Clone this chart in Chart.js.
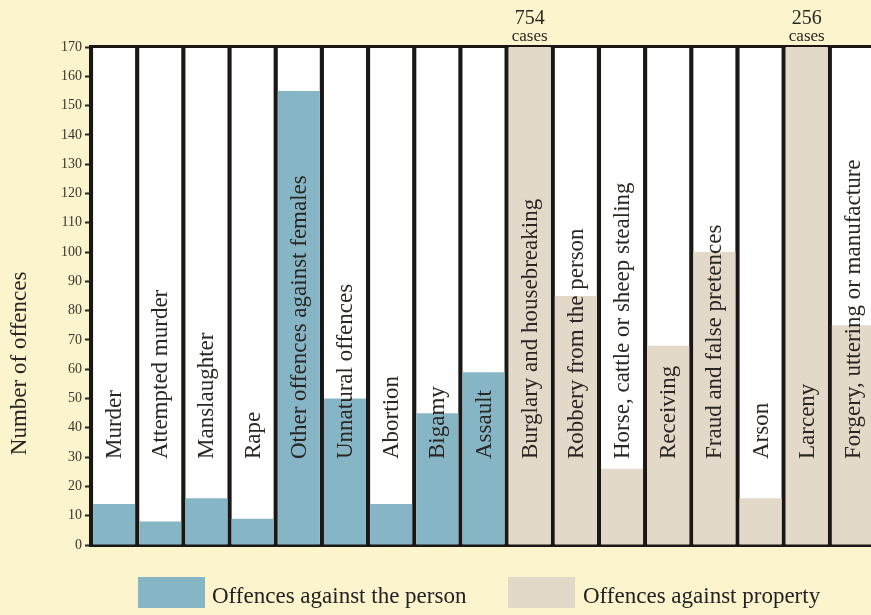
<!DOCTYPE html>
<html>
<head>
<meta charset="utf-8">
<script src="https://cdn.jsdelivr.net/npm/chart.js@4/dist/chart.umd.min.js"></script>
<style>
    html, body { margin: 0; padding: 0; overflow: hidden; background: #fbf4cd; }
    #wrap { position: relative; width: 880px; height: 615px; }
    .legend { position: absolute; top: 575px; font-family: 'Liberation Serif', serif; font-size: 23px; color: #222; }
    .legend span.box { position: absolute; top: 2px; width: 67px; height: 31px; }
    .legend span.txt { position: absolute; top: 8px; white-space: nowrap; }
</style>
</head>
<body>
<div id="wrap">
    <canvas id="crimeChart"></canvas>
    <div class="legend" style="left:138px"><span class="box" style="left:0;background:#86b6c6"></span><span class="txt" style="left:74px">Offences against the person</span></div>
    <div class="legend" style="left:508px"><span class="box" style="left:0;background:#e2d9c9"></span><span class="txt" style="left:75px">Offences against property</span></div>
</div>
<script>
const categories = ['Murder', 'Attempted murder', 'Manslaughter', 'Rape', 'Other offences against females',
    'Unnatural offences', 'Abortion', 'Bigamy', 'Assault', 'Burglary and housebreaking',
    'Robbery from the person', 'Horse, cattle or sheep stealing', 'Receiving', 'Fraud and false pretences',
    'Arson', 'Larceny', 'Forgery, uttering or manufacture'];
const offenceGroup = ['person', 'person', 'person', 'person', 'person', 'person', 'person', 'person', 'person',
    'property', 'property', 'property', 'property', 'property', 'property', 'property', 'property'];
const offences = [14, 8, 16, 9, 155, 50, 14, 45, 59, 754, 85, 26, 68, 100, 16, 256, 75];
const yMax = 170;
const yStep = 10;

const groupColors = { person: '#86b6c6', property: '#e2d9c9' };
const serif = "'Liberation Serif', serif";

// black frame + white columns behind the bars
const columnsPlugin = {
    id: 'columns',
    beforeDatasetsDraw(chart) {
        const { ctx, chartArea: a } = chart;
        const meta = chart.getDatasetMeta(0);
        ctx.save();
        ctx.fillStyle = '#1a1714';
        ctx.fillRect(a.left - 2, a.top - 2, a.right - a.left + 4, a.bottom - a.top + 4);
        ctx.fillStyle = '#ffffff';
        meta.data.forEach(bar => {
            ctx.fillRect(bar.x - bar.width / 2, a.top + 1, bar.width, a.bottom - a.top - 2);
        });
        ctx.restore();
    }
};

// labels inside the columns, "cases" notes above clipped bars, y title
const labelsPlugin = {
    id: 'labels',
    afterDatasetsDraw(chart) {
        const { ctx, chartArea: a, scales } = chart;
        const meta = chart.getDatasetMeta(0);
        ctx.save();
        ctx.fillStyle = '#2a2622';
        meta.data.forEach((bar, i) => {
            ctx.save();
            ctx.translate(bar.x + 1, a.bottom - 86);
            ctx.rotate(-Math.PI / 2);
            ctx.font = '23px ' + serif;
            ctx.textAlign = 'left';
            ctx.textBaseline = 'middle';
            ctx.fillText(categories[i], 0, 0);
            ctx.restore();

            if (offences[i] > yMax) {
                ctx.textAlign = 'center';
                ctx.textBaseline = 'alphabetic';
                ctx.font = '20px ' + serif;
                ctx.fillText(String(offences[i]), bar.x, a.top - 23);
                ctx.font = '17px ' + serif;
                ctx.fillText('cases', bar.x, a.top - 6);
            }
        });

        ctx.save();
        ctx.translate(20, scales.y.getPixelForValue(62));
        ctx.rotate(-Math.PI / 2);
        ctx.font = '23px ' + serif;
        ctx.textAlign = 'center';
        ctx.textBaseline = 'middle';
        ctx.fillText('Number of offences', 0, 0);
        ctx.restore();
        ctx.restore();
    }
};

const ctx = document.getElementById('crimeChart').getContext('2d');
new Chart(ctx, {
    type: 'bar',
    data: {
        labels: categories,
        datasets: [{
            label: 'Number of offences',
            data: offences,
            backgroundColor: offenceGroup.map(g => groupColors[g]),
            borderWidth: 0,
            barPercentage: 0.91,
            categoryPercentage: 1
        }]
    },
    options: {
        responsive: true,
        maintainAspectRatio: false,
        animation: false,
        layout: { padding: { top: 47, bottom: 70, right: 4, left: 0 } },
        plugins: {
            legend: { display: false },
            tooltip: { enabled: false }
        },
        scales: {
            x: { display: false },
            y: {
                min: 0,
                max: yMax,
                afterFit(scale) { scale.width = 91; },
                ticks: {
                    stepSize: yStep,
                    color: '#3a352e',
                    padding: 3,
                    font: { family: serif, size: 14 }
                },
                grid: {
                    drawOnChartArea: false,
                    tickLength: 6,
                    tickWidth: 2,
                    tickColor: '#2a2622'
                },
                border: { display: false }
            }
        }
    },
    plugins: [columnsPlugin, labelsPlugin]
});
</script>
</body>
</html>
